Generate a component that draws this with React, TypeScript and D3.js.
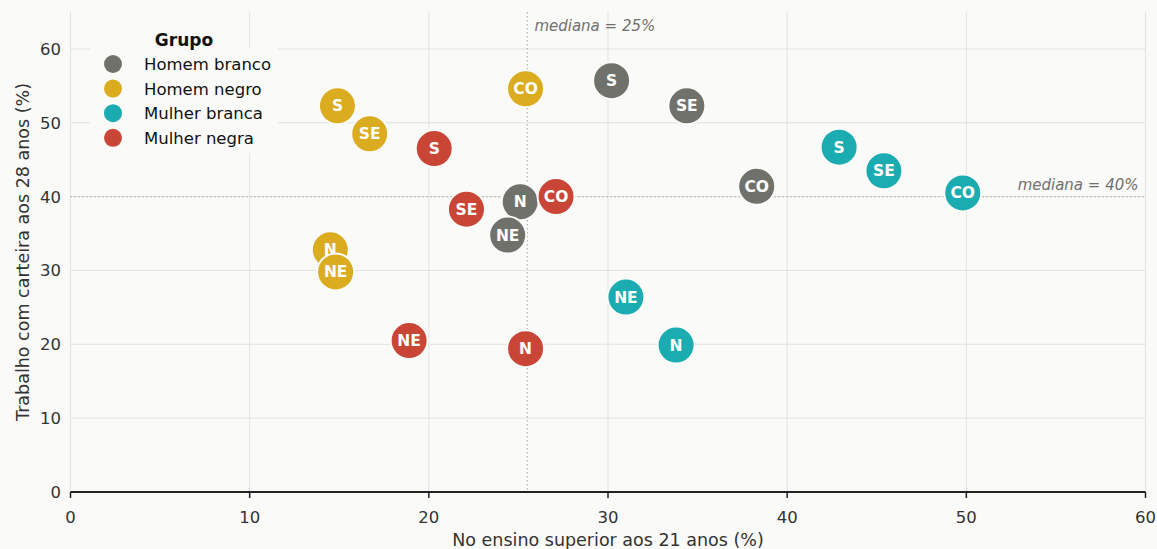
import * as d3 from "d3";

// dados
const grupos = ["Homem branco", "Homem negro", "Mulher branca", "Mulher negra"];
const cores = ["#71716b", "#dbac1f", "#1aacb0", "#c94636"];
const regioes = ["N", "NE", "SE", "S", "CO"];

const homemBrancoX = [25.1, 24.4, 34.4, 30.2, 38.3];
const homemBrancoY = [39.3, 34.8, 52.3, 55.7, 41.4];
const homemNegroX = [14.5, 14.8, 16.7, 14.9, 25.4];
const homemNegroY = [32.8, 29.8, 48.5, 52.3, 54.6];
const mulherBrancaX = [33.8, 31.0, 45.4, 42.9, 49.8];
const mulherBrancaY = [19.9, 26.4, 43.5, 46.7, 40.5];
const mulherNegraX = [25.4, 18.9, 22.1, 20.3, 27.1];
const mulherNegraY = [19.4, 20.5, 38.3, 46.5, 40.0];

const serieX = [homemBrancoX, homemNegroX, mulherBrancaX, mulherNegraX];
const serieY = [homemBrancoY, homemNegroY, mulherBrancaY, mulherNegraY];

const xTicks = [0, 10, 20, 30, 40, 50, 60];
const yTicks = [0, 10, 20, 30, 40, 50, 60];
const medianaX = 25.5;
const medianaY = 40;

const W = 1157;
const H = 549;
const font = "DejaVu Sans, sans-serif";

export default function App() {
  const x = d3.scaleLinear().domain([0, 60]).range([70.5, 1145.5]);
  const y = d3.scaleLinear().domain([0, 65]).range([492, 12]);

  const pontos = grupos.flatMap((g, gi) =>
    regioes.map((r, ri) => ({ grupo: g, cor: cores[gi], regiao: r, vx: serieX[gi][ri], vy: serieY[gi][ri] }))
  );

  return (
    <svg width={W} height={H} style={{ position: "absolute", left: 0, top: 0, background: "#fafaf8" }} fontFamily={font}>
      <rect width={W} height={H} fill="#fafaf8" />
      {/* grade */}
      {xTicks.map((t) => (
        <line key={"gx" + t} x1={x(t)} x2={x(t)} y1={y(65)} y2={y(0)} stroke="#e2e2e0" strokeWidth={1} />
      ))}
      {yTicks.map((t) => (
        <line key={"gy" + t} x1={x(0)} x2={x(60)} y1={y(t)} y2={y(t)} stroke="#e2e2e0" strokeWidth={1} />
      ))}
      {/* medianas */}
      <line x1={x(medianaX)} x2={x(medianaX)} y1={y(65)} y2={y(0)} stroke="#b5b5b2" strokeWidth={1.2} strokeDasharray="1.5,2.5" />
      <line x1={x(0)} x2={x(60)} y1={y(medianaY)} y2={y(medianaY)} stroke="#b5b5b2" strokeWidth={1.2} strokeDasharray="1.5,2.5" />
      <text x={x(medianaX) + 7} y={31} fontSize={15} fontStyle="italic" fill="#707070">mediana = 25%</text>
      <text x={x(60) - 7} y={190} fontSize={15} fontStyle="italic" fill="#707070" textAnchor="end">mediana = 40%</text>

      {/* eixo x */}
      <line x1={x(0)} x2={x(60)} y1={y(0)} y2={y(0)} stroke="#222" strokeWidth={2} />
      {xTicks.map((t) => (
        <g key={"xt" + t}>
          <line x1={x(t)} x2={x(t)} y1={y(0)} y2={y(0) + 6} stroke="#222" strokeWidth={1.5} />
          <text x={x(t)} y={523} fontSize={16.5} fill="#333" textAnchor="middle">{t}</text>
        </g>
      ))}
      {yTicks.map((t) => (
        <text key={"yt" + t} x={61} y={y(t) + 6} fontSize={16.5} fill="#333" textAnchor="end">{t}</text>
      ))}
      <text x={608} y={546} fontSize={17.5} fill="#333" textAnchor="middle">No ensino superior aos 21 anos (%)</text>
      <text transform={`translate(29,${(y(0) + y(65)) / 2}) rotate(-90)`} fontSize={17.5} fill="#333" textAnchor="middle">
        Trabalho com carteira aos 28 anos (%)
      </text>

      {/* pontos */}
      {pontos.map((p, i) => (
        <g key={"p" + i} transform={`translate(${x(p.vx)},${y(p.vy)})`}>
          <circle r={18.5} fill={p.cor} stroke="#fafaf8" strokeWidth={2} />
          <text y={5.5} fontSize={15.5} fontWeight="bold" fill="#fff" textAnchor="middle">{p.regiao}</text>
        </g>
      ))}

      {/* legenda */}
      <rect x={90} y={48} width={188} height={105} fill="#fafaf8" />
      <text x={184} y={46} fontSize={17} fontWeight="bold" fill="#111" textAnchor="middle">Grupo</text>
      {grupos.map((g, i) => (
        <g key={"l" + g} transform={`translate(0,${64 + i * 24.6})`}>
          <circle cx={113} r={9} fill={cores[i]} />
          <text x={144} y={6} fontSize={16.5} fill="#111">{g}</text>
        </g>
      ))}
    </svg>
  );
}
